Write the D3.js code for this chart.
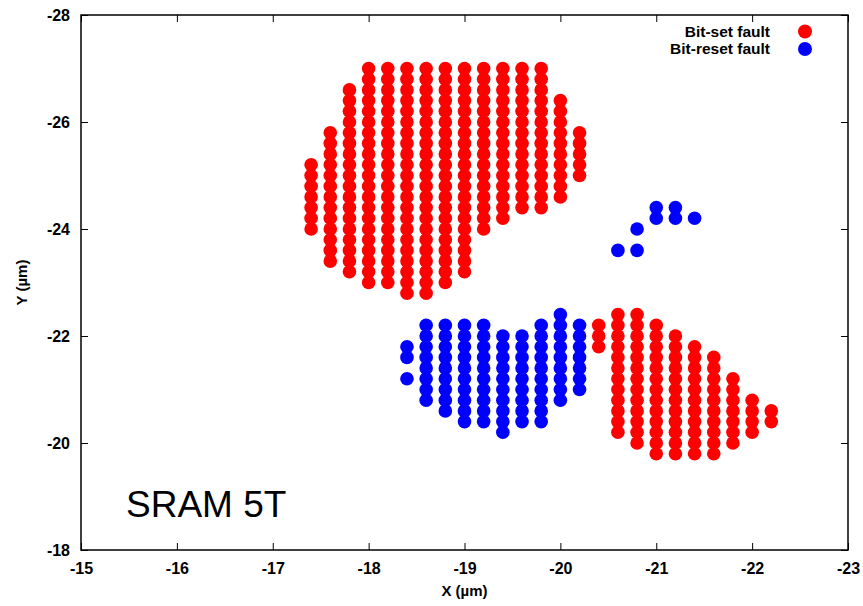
<!DOCTYPE html>
<html lang="en">
<head>
  <meta charset="UTF-8">
  <title>SRAM 5T</title>
  <script src="https://d3js.org/d3.v7.min.js"></script>
  <style>
    body { margin: 0; background: #fff; }
    text { font-family: "Liberation Sans", Arial, sans-serif; }
  </style>
</head>
<body>
  <svg width="863" height="606"></svg>
  <script>
    // runs of points: [x, y from, y to], grid step 0.2 µm
    const setRuns = [
      [-17.4, -25.2, -24.0], [-17.6, -25.8, -23.4], [-17.8, -26.6, -23.2],
      [-18.0, -27.0, -23.0], [-18.2, -27.0, -23.0], [-18.4, -27.0, -22.8],
      [-18.6, -27.0, -22.8], [-18.8, -27.0, -23.0], [-19.0, -27.0, -23.2],
      [-19.2, -27.0, -24.0], [-19.4, -27.0, -24.2], [-19.6, -27.0, -24.4],
      [-19.8, -27.0, -24.4], [-20.0, -26.4, -24.6], [-20.2, -25.8, -25.0],
      [-20.4, -22.2, -21.8], [-20.6, -22.4, -20.2], [-20.8, -22.4, -20.0],
      [-21.0, -22.2, -19.8], [-21.2, -22.0, -19.8], [-21.4, -21.8, -19.8],
      [-21.6, -21.6, -19.8], [-21.8, -21.2, -20.0], [-22.0, -20.8, -20.2],
      [-22.2, -20.6, -20.4]
    ]
    const resetRuns = [
      [-18.4, -21.8, -21.6], [-18.4, -21.2, -21.2],
      [-18.6, -22.2, -20.8], [-18.8, -22.2, -20.6], [-19.0, -22.2, -20.4],
      [-19.2, -22.2, -20.4], [-19.4, -22.0, -20.2], [-19.6, -22.0, -20.4],
      [-19.8, -22.2, -20.4], [-20.0, -22.4, -20.8], [-20.2, -22.2, -21.0],
      [-20.6, -23.6, -23.6], [-20.8, -24.0, -24.0], [-20.8, -23.6, -23.6],
      [-21.0, -24.4, -24.2], [-21.2, -24.4, -24.2], [-21.4, -24.2, -24.2]
    ]
    const xTicks = [-15, -16, -17, -18, -19, -20, -21, -22, -23]
    const yTicks = [-28, -26, -24, -22, -20, -18]
    const seriesNames = ["Bit-set fault", "Bit-reset fault"]
    const seriesColors = ["#ff0000", "#0000ff"]

    // unpack runs into single points
    function toPoints(runs) {
      const pts = []
      runs.forEach(([x, y0, y1]) => {
        const n = Math.round((y1 - y0) / 0.2)
        for (let i = 0; i <= n; i++) pts.push({ x: x, y: +(y0 + i * 0.2).toFixed(1) })
      })
      return pts
    }

    const marge = { top: 15, right: 15, bottom: 56, left: 81 }
    const svg = d3.select("svg")
    const width = +svg.attr("width")
    const height = +svg.attr("height")
    const w = width - marge.left - marge.right
    const h = height - marge.top - marge.bottom
    const g = svg.append("g").attr("transform", "translate(" + marge.left + "," + marge.top + ")")

    const x = d3.scaleLinear().domain([-15, -23]).range([0, w])
    const y = d3.scaleLinear().domain([-28, -18]).range([0, h])

    // points
    const data = [toPoints(setRuns), toPoints(resetRuns)]
    data.forEach((pts, k) => {
      g.append("g").selectAll("circle")
        .data(pts)
        .enter()
        .append("circle")
        .attr("cx", d => x(d.x))
        .attr("cy", d => y(d.y))
        .attr("r", 6.8)
        .attr("fill", seriesColors[k])
    })

    // axes, ticks inward on all four sides
    const tickLen = 7
    const fmt = d => String(d)  // plain hyphen like gnuplot
    const gx = g.append("g").attr("transform", "translate(0," + h + ")")
      .call(d3.axisBottom(x).tickValues(xTicks).tickSize(-tickLen).tickPadding(11).tickFormat(fmt))
    const gy = g.append("g")
      .call(d3.axisLeft(y).tickValues(yTicks).tickSize(-tickLen).tickPadding(11).tickFormat(fmt))
    g.append("g").call(d3.axisTop(x).tickValues(xTicks).tickSize(-tickLen).tickFormat(""))
    g.append("g").attr("transform", "translate(" + w + ",0)")
      .call(d3.axisRight(y).tickValues(yTicks).tickSize(-tickLen).tickFormat(""))
    g.selectAll(".domain").remove()
    g.selectAll(".tick line").attr("stroke", "#000").attr("stroke-width", 1)
    ;[gx, gy].forEach(a => a.selectAll("text")
      .attr("font-size", 16).attr("font-weight", "bold")
      .style("font-family", "'Liberation Sans', Arial, sans-serif").attr("fill", "#000"))
    gx.selectAll("text").attr("dy", "0.35em").attr("y", 18)

    g.append("rect")
      .attr("width", w).attr("height", h)
      .attr("fill", "none").attr("stroke", "#000").attr("stroke-width", 1.5)

    // axis titles
    svg.append("text")
      .attr("x", marge.left + w / 2).attr("y", 596)
      .attr("text-anchor", "middle").attr("font-size", 15).attr("font-weight", "bold")
      .text("X (µm)")
    svg.append("text")
      .attr("transform", "translate(27," + (marge.top + h / 2) + ") rotate(-90)")
      .attr("text-anchor", "middle").attr("font-size", 15).attr("font-weight", "bold")
      .text("Y (µm)")

    // legend
    seriesNames.forEach((name, k) => {
      const ly = 31.5 + k * 17.5
      svg.append("text")
        .attr("x", 770).attr("y", ly).attr("dy", "0.35em")
        .attr("text-anchor", "end").attr("font-size", 15.5).attr("font-weight", "bold")
        .text(name)
      svg.append("circle")
        .attr("cx", 805).attr("cy", ly).attr("r", 7)
        .attr("fill", seriesColors[k])
    })

    // label
    svg.append("text")
      .attr("x", 126).attr("y", 517)
      .attr("font-size", 37)
      .text("SRAM 5T")
  </script>
</body>
</html>
